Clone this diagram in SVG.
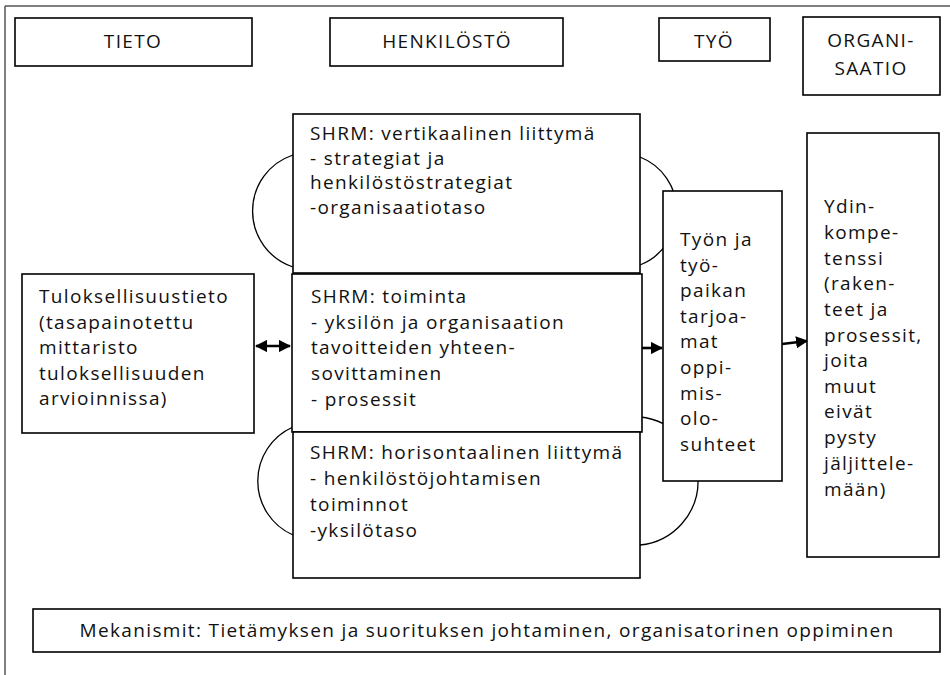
<svg xmlns="http://www.w3.org/2000/svg" width="950" height="675" viewBox="0 0 950 675">
  <style>
    .box { fill: #ffffff; stroke: #000000; stroke-width: 1.6; }
    .frame { fill: none; stroke: #555555; stroke-width: 1.5; }
    .arc { fill: none; stroke: #000000; stroke-width: 1.3; }
    .conn { fill: none; stroke: #000000; stroke-width: 2.6; }
    text { font-family: "Open Sans", "Noto Sans", "DejaVu Sans", sans-serif; font-size: 19px; letter-spacing: 1.35px; fill: #111111; }
    .c { text-anchor: middle; }
  </style>
  <defs>
    <marker id="head" viewBox="0 0 10 10" refX="9" refY="5" markerWidth="4.7" markerHeight="4.7" orient="auto-start-reverse" markerUnits="strokeWidth">
      <path d="M0,0 L10,5 L0,10 Z" fill="#000000"/>
    </marker>
  </defs>

  <!-- page frame: top and left rule only -->
  <g id="frame">
    <line class="frame" x1="5" y1="6" x2="950" y2="6"/>
    <line class="frame" x1="5" y1="6" x2="5" y2="675"/>
  </g>

  <!-- column headings -->
  <g id="tieto"><rect class="box" x="15" y="18" width="237" height="48"/><text class="c" x="133" y="48">TIETO</text></g>
  <g id="henkilosto"><rect class="box" x="330" y="18" width="233" height="48"/><text class="c" x="447" y="48">HENKILÖSTÖ</text></g>
  <g id="tyo"><rect class="box" x="659" y="18" width="111" height="43"/><text class="c" x="714" y="48">TYÖ</text></g>
  <g id="organisaatio"><rect class="box" x="803" y="17" width="137" height="78"/><text class="c" x="871" y="47">ORGANI-</text><text class="c" x="871" y="75">SAATIO</text></g>

  <!-- loops joining the SHRM boxes, and the arrows -->
  <g id="connectors">
    <path class="arc" d="M293,155 A59,59 0 0 0 293,267"/>
    <path class="arc" d="M640,157 A58,58 0 0 1 640,265"/>
    <path class="arc" d="M293,427 A59,59 0 0 0 293,535"/>
    <path class="arc" d="M640,417 A64.3,64.3 0 0 1 640,545"/>
    <line class="conn" x1="256" y1="346" x2="290" y2="346" marker-start="url(#head)" marker-end="url(#head)"/>
    <line class="conn" x1="642" y1="348" x2="662" y2="348" marker-end="url(#head)"/>
    <line class="conn" x1="782" y1="344" x2="807" y2="341" marker-end="url(#head)"/>
  </g>

  <g id="shrm-vertikaalinen">
    <rect class="box" x="293" y="114" width="347" height="159"/>
    <text x="310" y="140">SHRM: vertikaalinen liittymä</text>
    <text x="310" y="164.5">- strategiat ja</text>
    <text x="310" y="189">henkilöstöstrategiat</text>
    <text x="310" y="213.5">-organisaatiotaso</text>
  </g>

  <g id="shrm-toiminta">
    <rect class="box" x="292" y="274" width="350" height="158"/>
    <text x="311" y="303">SHRM: toiminta</text>
    <text x="311" y="329">- yksilön ja organisaation</text>
    <text x="311" y="354">tavoitteiden yhteen-</text>
    <text x="311" y="380">sovittaminen</text>
    <text x="311" y="406">- prosessit</text>
  </g>

  <g id="shrm-horisontaalinen">
    <rect class="box" x="293" y="432" width="347" height="146"/>
    <text x="310" y="459">SHRM: horisontaalinen liittymä</text>
    <text x="310" y="485">- henkilöstöjohtamisen</text>
    <text x="310" y="511">toiminnot</text>
    <text x="310" y="537">-yksilötaso</text>
  </g>

  <g id="tuloksellisuustieto">
    <rect class="box" x="22" y="274" width="232" height="159"/>
    <text x="39" y="303">Tuloksellisuustieto</text>
    <text x="39" y="329">(tasapainotettu</text>
    <text x="39" y="354">mittaristo</text>
    <text x="39" y="380">tuloksellisuuden</text>
    <text x="39" y="405">arvioinnissa)</text>
  </g>

  <g id="oppimisolosuhteet">
    <rect class="box" x="663" y="191" width="119" height="290"/>
    <text x="680" y="246">Työn ja</text>
    <text x="680" y="272">työ-</text>
    <text x="680" y="297">paikan</text>
    <text x="680" y="323">tarjoa-</text>
    <text x="680" y="348">mat</text>
    <text x="680" y="374">oppi-</text>
    <text x="680" y="400">mis-</text>
    <text x="680" y="425">olo-</text>
    <text x="680" y="451">suhteet</text>
  </g>

  <g id="ydinkompetenssi">
    <rect class="box" x="807" y="133" width="132" height="424"/>
    <text x="824" y="213">Ydin-</text>
    <text x="824" y="239">kompe-</text>
    <text x="824" y="265">tenssi</text>
    <text x="824" y="290">(raken-</text>
    <text x="824" y="316">teet ja</text>
    <text x="824" y="342">prosessit,</text>
    <text x="824" y="367">joita</text>
    <text x="824" y="393">muut</text>
    <text x="824" y="418">eivät</text>
    <text x="824" y="444">pysty</text>
    <text x="824" y="470">jäljittele-</text>
    <text x="824" y="496">mään)</text>
  </g>

  <g id="mekanismit">
    <rect class="box" x="33" y="609" width="907" height="43"/>
    <text class="c" x="487" y="637">Mekanismit: Tietämyksen ja suorituksen johtaminen, organisatorinen oppiminen</text>
  </g>
</svg>
